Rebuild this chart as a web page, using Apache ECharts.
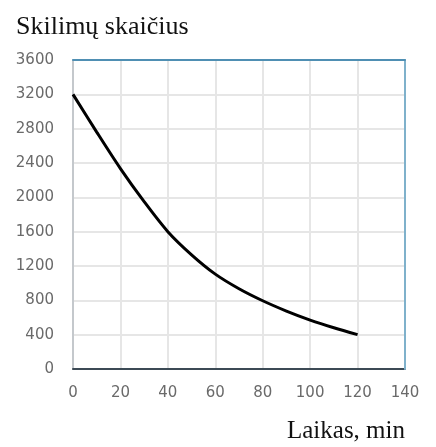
<!DOCTYPE html>
<html><head><meta charset="utf-8">
<script src="https://cdn.jsdelivr.net/npm/echarts@6/dist/echarts.min.js"></script>
<style>html,body{margin:0;padding:0;background:#fff}#c{width:436px;height:447px}</style>
</head><body><div id="c"></div>
<script>
var timeMin = [0, 10, 20, 30, 40, 50, 60, 70, 80, 90, 100, 110, 120];
var decays = [3200, 2760, 2335, 1950, 1600, 1330, 1105, 935, 795, 675, 570, 480, 400];
var xTicks = [0, 20, 40, 60, 80, 100, 120, 140];
var yTicks = [0, 400, 800, 1200, 1600, 2000, 2400, 2800, 3200, 3600];
var yTitle = 'Skilimų skaičius';
var xTitle = 'Laikas, min';

var chart = echarts.init(document.getElementById('c'));
function plain(v) { return String(v); }
var xMin = xTicks[0], xMax = xTicks[xTicks.length - 1];
var yMin = yTicks[0], yMax = yTicks[yTicks.length - 1];
chart.setOption({
  animation: false,
  title: [
    {text: yTitle, left: 11, top: 9, textStyle: {fontFamily: 'Liberation Serif', fontSize: 26, fontWeight: 'normal', color: '#111'}},
    {text: xTitle, right: 26, top: 414, textStyle: {fontFamily: 'Liberation Serif', fontSize: 25, fontWeight: 'normal', color: '#111'}}
  ],
  grid: {left: 73, top: 60, right: 31, bottom: 78, containLabel: false},
  xAxis: [
    {type: 'value', min: xMin, max: xMax, interval: 20,
     axisLine: {show: true, onZero: false, lineStyle: {color: '#3c4a55', width: 2}},
     axisTick: {show: false},
     axisLabel: {margin: 17, color: '#6a6a6a', fontFamily: 'DejaVu Sans', fontSize: 15, formatter: plain},
     splitLine: {show: true, showMinLine: false, showMaxLine: false, lineStyle: {color: '#e6e6e6', width: 2}}},
    {type: 'value', position: 'top', min: xMin, max: xMax, interval: 20, z: 10,
     axisLine: {show: true, onZero: false, lineStyle: {color: '#4f8fb3', width: 2}},
     axisTick: {show: false}, axisLabel: {show: false}, splitLine: {show: false}}
  ],
  yAxis: [
    {type: 'value', min: yMin, max: yMax, interval: 400,
     axisLine: {show: true, onZero: false, lineStyle: {color: '#c4c8cc', width: 2}},
     axisTick: {show: false},
     axisLabel: {margin: 19, color: '#6a6a6a', fontFamily: 'DejaVu Sans', fontSize: 15, formatter: plain},
     splitLine: {show: true, showMinLine: false, showMaxLine: false, lineStyle: {color: '#e6e6e6', width: 2}}},
    {type: 'value', position: 'right', min: yMin, max: yMax, interval: 400, z: 10,
     axisLine: {show: true, onZero: false, lineStyle: {color: '#7fb1cb', width: 2}},
     axisTick: {show: false}, axisLabel: {show: false}, splitLine: {show: false}}
  ],
  series: [{
    type: 'line', xAxisIndex: 0, yAxisIndex: 0, z: 5,
    data: timeMin.map(function (t, i) { return [t, decays[i]]; }),
    smooth: 0.3, showSymbol: false,
    lineStyle: {color: '#000', width: 3}
  }]
});
</script></body></html>
